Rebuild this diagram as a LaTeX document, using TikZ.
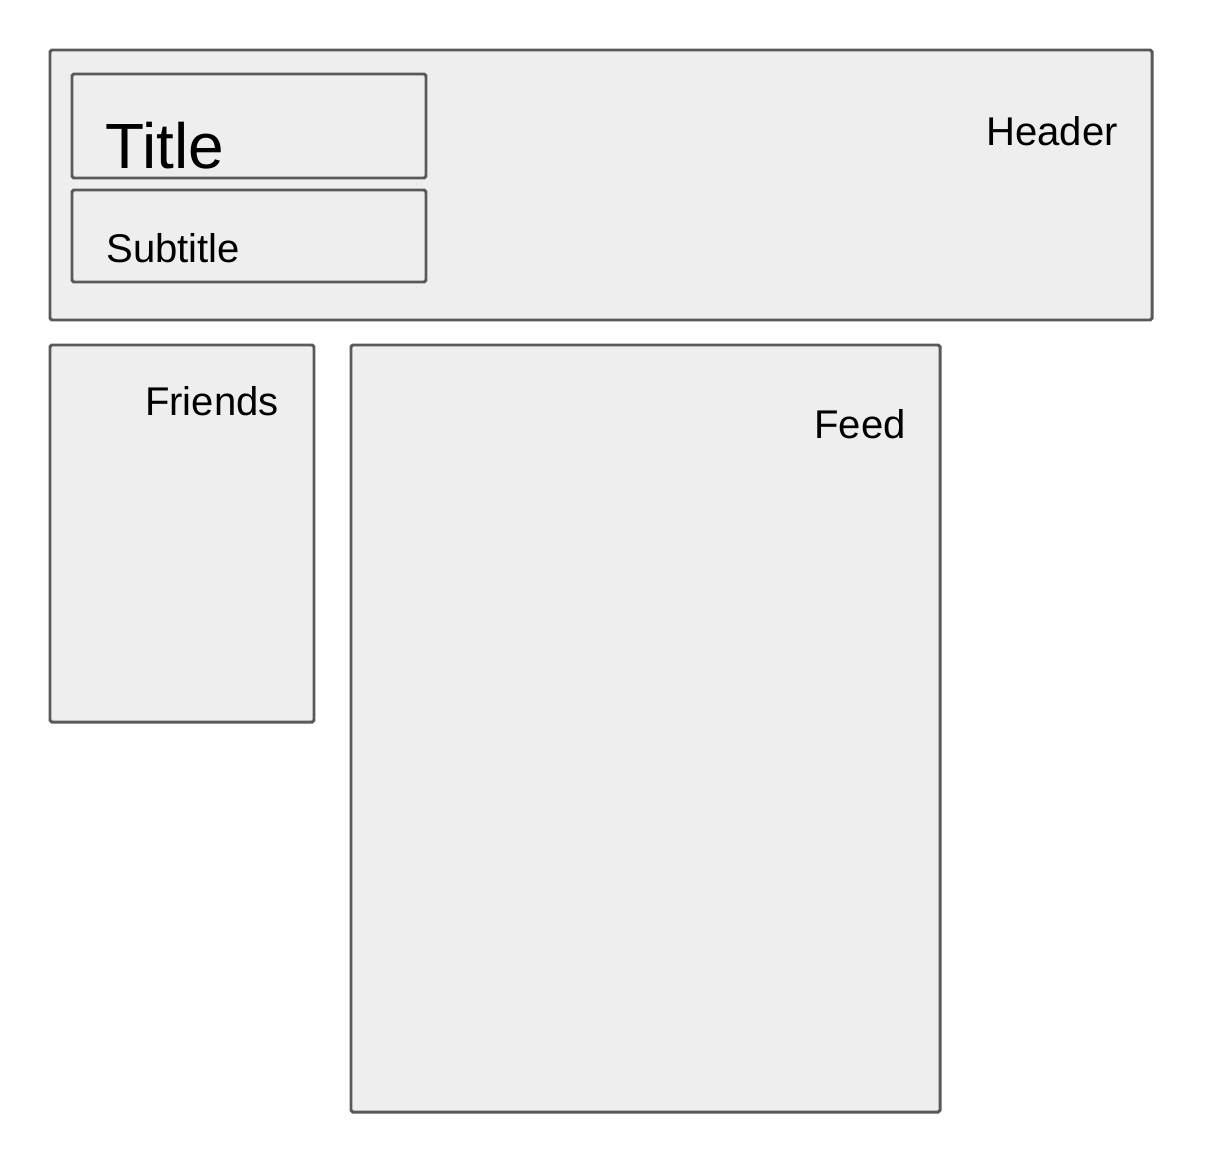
\documentclass[tikz,border=0pt]{standalone}
\usepackage{fontspec}
\setmainfont{Liberation Sans}
\usetikzlibrary{positioning}

\definecolor{panelfill}{HTML}{EEEEEE}
\definecolor{paneledge}{HTML}{595959}
\tikzset{
  panel/.style={fill=panelfill, draw=paneledge, line width=1.7pt, rounded corners=1pt},
  lbl/.style={inner sep=0pt, font=\fontsize{22.8}{26}\selectfont}
}

\begin{document}
\begin{tikzpicture}
  \useasboundingbox (0cm,0cm) rectangle (24.16cm,-23.12cm);
  \filldraw[panel] (1cm,-1cm) rectangle (23.04cm,-6.4cm);
  \filldraw[panel] (1.44cm,-1.48cm) rectangle (8.52cm,-3.56cm);
  \filldraw[panel] (1.44cm,-3.8cm) rectangle (8.52cm,-5.64cm);
  \filldraw[panel] (1cm,-6.9cm) rectangle (6.28cm,-14.44cm);
  \filldraw[panel] (7.02cm,-6.9cm) rectangle (18.8cm,-22.24cm);
  \node[lbl, anchor=base east] (header) at (22.36cm,-2.9cm) {Header};
  \node[lbl, anchor=base west, font=\fontsize{36.4}{40}\selectfont] (title) at (2.1cm,-3.36cm) {Title};
  \node[lbl, anchor=base west] (subtitle) at (2.12cm,-5.24cm) {Subtitle};
  \node[lbl, anchor=base east] (friends) at (5.58cm,-8.3cm) {Friends};
  \node[lbl, anchor=base east] (feed) at (18.12cm,-8.76cm) {Feed};
\end{tikzpicture}
\end{document}
